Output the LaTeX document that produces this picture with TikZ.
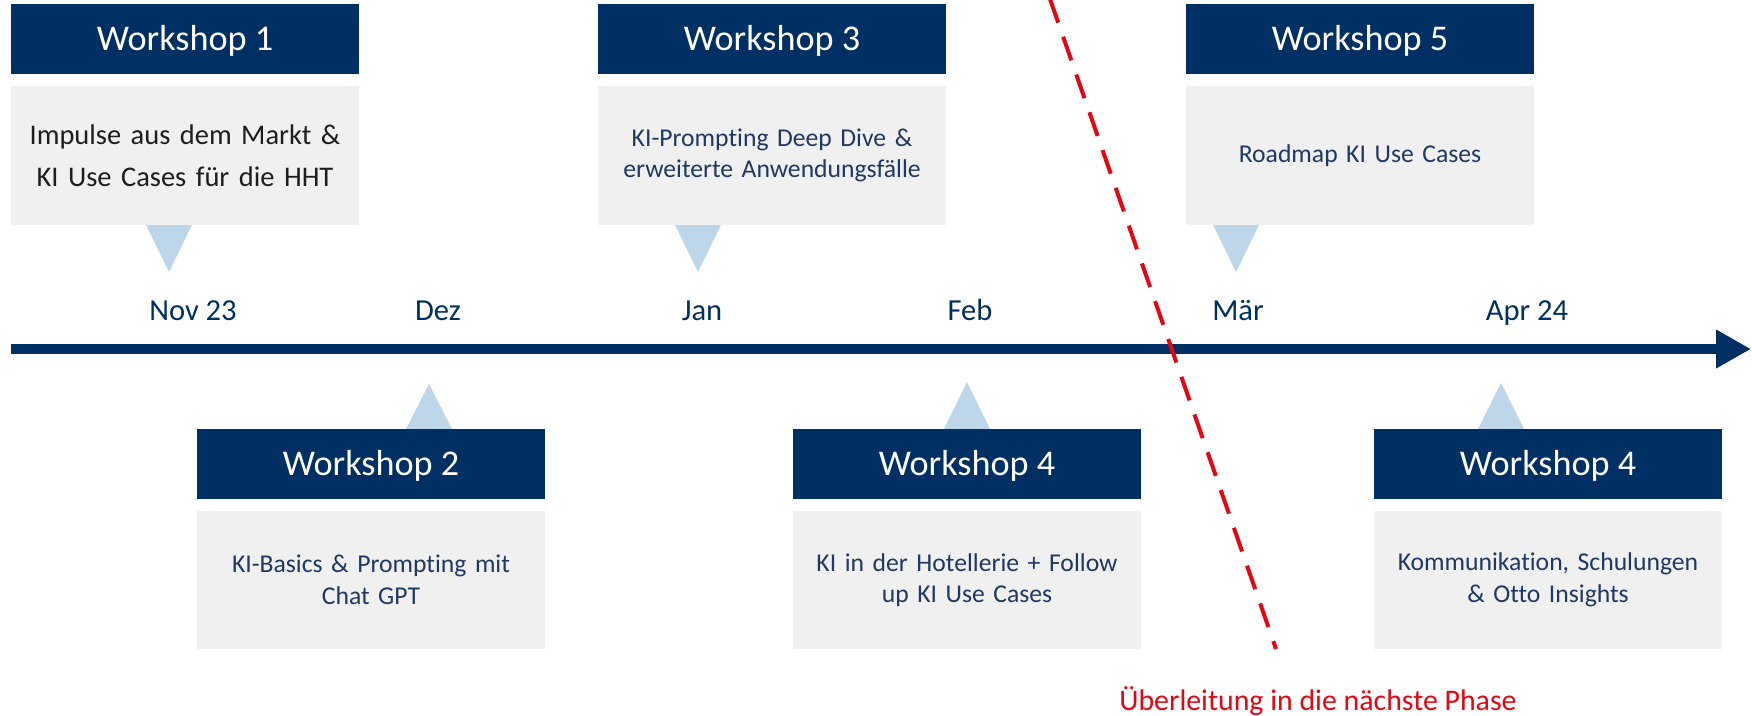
\documentclass[tikz,border=0pt]{standalone}
\usepackage{fontspec}
\setmainfont{Carlito}[Ligatures=NoCommon]
\usetikzlibrary{arrows.meta}

\definecolor{hhtnavy}{RGB}{0,48,99}
\definecolor{topicnavy}{RGB}{31,56,100}
\definecolor{topicdark}{RGB}{30,30,30}
\definecolor{boxgrey}{RGB}{240,240,240}
\definecolor{pointerblue}{RGB}{190,214,234}
\definecolor{phasered}{RGB}{227,6,19}

\begin{document}
\begin{tikzpicture}[x=0.02cm,y=-0.02cm,
    header/.style={fill=hhtnavy,text=white,inner sep=0pt,minimum width=6.96cm,minimum height=1.4cm,
      font=\fontsize{20.6}{24}\selectfont,text height=13.3pt,text depth=0pt},
    topic/.style={fill=boxgrey,text=topicnavy,inner sep=0pt,minimum width=6.96cm,minimum height=2.78cm,
      text width=6.8cm,align=center,font=\fontsize{14.6}{18}\selectfont},
    month/.style={text=hhtnavy,inner sep=0pt,anchor=base,font=\fontsize{17.4}{20}\selectfont},
    pointer/.style={fill=pointerblue},
    axis/.style={draw=hhtnavy,line width=0.22cm,-{Triangle[length=0.7cm,width=0.73cm]}},
    phase/.style={draw=phasered,line width=0.08cm,dash pattern=on 0.5cm off 0.3cm}]
    \useasboundingbox (0,0) rectangle (1752,716);

    % pointers from the boxes to the time line
    \foreach \x/\ybase/\ytip in {169/225/272, 698/225/272, 1236/225/272,
                                  429/429/384, 967/429/382, 1501/429/383}
      \fill[pointer] (\x-23,\ybase) -- (\x+23,\ybase) -- (\x,\ytip) -- cycle;

    % workshops above the axis
    \node[header] (ws1) at (185,39) {Workshop 1};
    \node[topic,text=topicdark,font=\fontsize{16.2}{24}\selectfont] (ws1text) at (185,155.5)
      {Impulse aus dem Markt \&\\ KI Use Cases für die HHT};
    \node[header] (ws3) at (772,39) {Workshop 3};
    \node[topic] (ws3text) at (772,155.5) {KI-Prompting Deep Dive \&\\ erweiterte Anwendungsfälle};
    \node[header] (ws5) at (1360,39) {Workshop 5};
    \node[topic] (ws5text) at (1360,155.5) {Roadmap KI Use Cases};

    % workshops below the axis
    \node[header] (ws2) at (371,464) {Workshop 2};
    \node[topic] (ws2text) at (371,580) {KI-Basics \& Prompting mit\\ Chat GPT};
    \node[header] (ws4) at (967,464) {Workshop 4};
    \node[topic] (ws4text) at (967,580) {KI in der Hotellerie + Follow\\ up KI Use Cases};
    \node[header] (ws6) at (1548,464) {Workshop 4};
    \node[topic] (ws6text) at (1548,580) {Kommunikation, Schulungen\\ \& Otto Insights};

    % time line
    \node[month] (nov) at (193,320) {Nov 23};
    \node[month] (dez) at (438,320) {Dez};
    \node[month] (jan) at (702,320) {Jan};
    \node[month] (feb) at (970,320) {Feb};
    \node[month] (mar) at (1238,320) {Mär};
    \node[month] (apr) at (1527,320) {Apr 24};
    \coordinate (axisstart) at (11,349);
    \coordinate (axisend) at (1751,349);
    \draw[axis] (axisstart) -- (axisend);

    % phase transition
    \coordinate (phasetop) at (1050,-1);
    \coordinate (phaseend) at (1276,649);
    \draw[phase] (phasetop) -- (phaseend);
    \node[text=phasered,inner sep=0pt,anchor=base,font=\fontsize{17}{20}\selectfont] (phasenote)
      at (1318,710) {Überleitung in die nächste Phase};
\end{tikzpicture}
\end{document}
